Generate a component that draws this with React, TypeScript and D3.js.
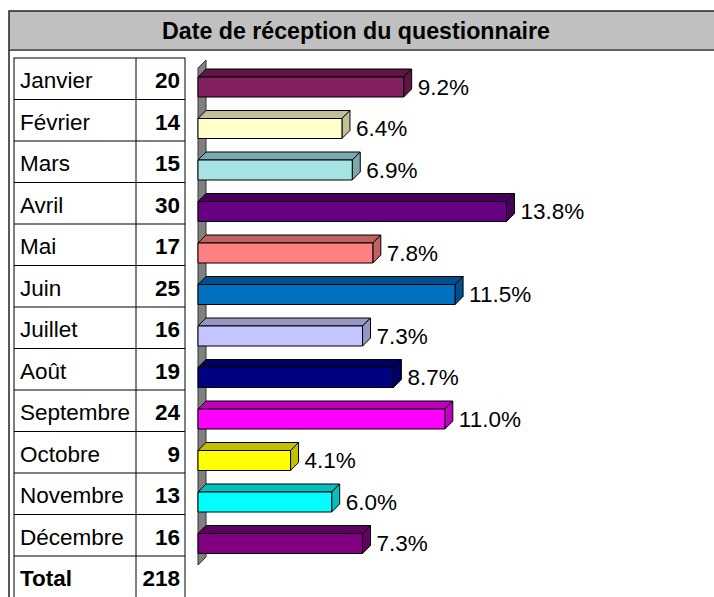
import React from "react";
import * as d3 from "d3";

const TITLE = "Date de réception du questionnaire";
const MONTHS = ["Janvier","Février","Mars","Avril","Mai","Juin","Juillet","Août","Septembre","Octobre","Novembre","Décembre"];
const COUNTS = [20,14,15,30,17,25,16,19,24,9,13,16];
const TOTAL_LABEL = "Total";
const FRONT = ["#822060","#ffffcc","#a6e3e3","#660080","#ff8080","#0070c0","#c4c4ff","#000080","#ff00ff","#ffff00","#00ffff","#800080"];
const DARK = ["#5e1646","#c0c099","#78acac","#48005e","#c06060","#00508f","#9696c4","#000060","#c000c0","#c0c000","#00c0c0","#600060"];

const FONT = "'Liberation Sans', Arial, sans-serif";

export default function App() {
  const W = 714, H = 597;
  const total = d3.sum(COUNTS);
  const rowTop = 58, rowStep = 41.5;
  const rows = [...MONTHS, TOTAL_LABEL];
  const y = (i: number) => rowTop + i * rowStep;
  const x = d3.scaleLinear().domain([0, 30]).range([198, 506.5]);
  const depth = 8;
  const tblL = 14, tblDiv = 136, tblR = 185;
  const fs = 22.5;
  const wallTop = 68, wallBot = 565;
  const fmt = d3.format(".1f");

  return (
    <svg width={W} height={H} style={{ position: "absolute", left: 0, top: 0, background: "#fff" }}>
      <rect x={0} y={0} width={W} height={H} fill="#fff" />
      {/* title box */}
      <rect x={9} y={11} width={W + 20} height={39} fill="#c0c0c0" stroke="#222" strokeWidth={1.5} />
      <line x1={9} x2={W + 20} y1={50} y2={50} stroke="#606060" strokeWidth={2} />
      <text x={356} y={39} textAnchor="middle" fontFamily={FONT} fontWeight="bold" fontSize={23.2} fill="#000">{TITLE}</text>
      {/* outer left frame line */}
      <line x1={9} x2={9} y1={50} y2={H + 2} stroke="#222" strokeWidth={1.5} />
      {/* table */}
      <g fontFamily={FONT} fontSize={fs} fill="#000">
        <rect x={tblL} y={rowTop} width={tblR - tblL} height={H + 10 - rowTop} fill="none" stroke="#000" strokeWidth={1} />
        <line x1={tblDiv} x2={tblDiv} y1={rowTop} y2={H + 10} stroke="#000" />
        {rows.map((m, i) => (
          <g key={m}>
            {i > 0 && <line x1={tblL} x2={tblR} y1={y(i)} y2={y(i)} stroke="#000" />}
            <text x={20} y={y(i) + rowStep / 2 + 9.5} fontWeight={i === 12 ? "bold" : "normal"}>{m}</text>
            <text x={180} y={y(i) + rowStep / 2 + 9.5} textAnchor="end" fontWeight="bold">
              {i === 12 ? total : COUNTS[i]}
            </text>
          </g>
        ))}
      </g>
      {/* wall */}
      <polygon
        points={`${x(0)},${wallTop} ${x(0) + depth},${wallTop - depth} ${x(0) + depth},${wallBot - depth} ${x(0)},${wallBot}`}
        fill="#808080" stroke="#333" strokeWidth={1}
      />
      {/* bars */}
      {COUNTS.map((c, i) => {
        const x0 = x(0), x1 = x(c);
        const t = y(i) + 19, b = t + 20;
        return (
          <g key={i} stroke="#000" strokeWidth={1} strokeLinejoin="round">
            <polygon points={`${x0},${t} ${x0 + depth},${t - depth} ${x1 + depth},${t - depth} ${x1},${t}`} fill={DARK[i]} />
            <polygon points={`${x1},${t} ${x1 + depth},${t - depth} ${x1 + depth},${b - depth} ${x1},${b}`} fill={DARK[i]} />
            <rect x={x0} y={t} width={x1 - x0} height={b - t} fill={FRONT[i]} />
            <text x={x1 + depth + 6} y={(t + b) / 2 + 7.5} fontFamily={FONT} fontSize={fs} fill="#000" stroke="none">
              {fmt((c / total) * 100)}%
            </text>
          </g>
        );
      })}
    </svg>
  );
}
